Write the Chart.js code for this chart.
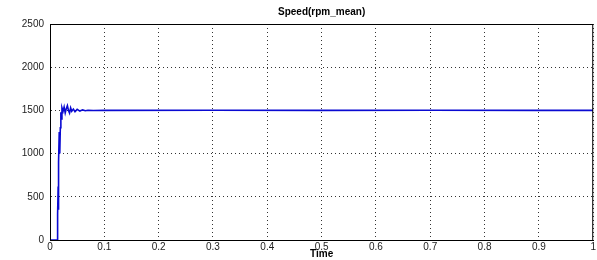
<!DOCTYPE html>
<html>
<head>
<meta charset="utf-8">
<script src="https://cdn.jsdelivr.net/npm/chart.js@4.4.0/dist/chart.umd.min.js"></script>
<style>
  html, body { margin: 0; padding: 0; background: #fff; }
  #wrap { width: 597px; height: 260px; }
</style>
</head>
<body>
<div id="wrap"><canvas id="speedChart"></canvas></div>
<script>
// values (time in s, speed in rpm)
const time = [0, 0.013, 0.014, 0.015, 0.0155, 0.016, 0.017, 0.018, 0.019, 0.020, 0.021, 0.022,
  0.024, 0.026, 0.028, 0.030, 0.032, 0.034, 0.036, 0.038, 0.040, 0.043, 0.046, 0.050,
  0.055, 0.060, 0.065, 0.070, 0.080, 0.100, 0.300, 0.500, 0.700, 0.900, 1.0];
const speed = [0, 0, 300, 620, 350, 900, 1250, 1000, 1300, 1480, 1400, 1530,
  1490, 1540, 1470, 1520, 1555, 1500, 1470, 1530, 1490, 1515, 1485, 1512,
  1492, 1506, 1496, 1502, 1499, 1500, 1501, 1500, 1501, 1500, 1500];
const xTicks = [0, 0.1, 0.2, 0.3, 0.4, 0.5, 0.6, 0.7, 0.8, 0.9, 1];
const yTicks = [0, 500, 1000, 1500, 2000, 2500];

const points = time.map((t, i) => ({ x: t, y: speed[i] }));

// MATLAB style box around the axes
const boxPlugin = {
  id: 'box',
  afterDraw(chart) {
    const a = chart.chartArea, ctx = chart.ctx;
    ctx.save();
    ctx.strokeStyle = '#000';
    ctx.lineWidth = 1;
    ctx.strokeRect(a.left + 0.5, a.top + 0.5, a.right - a.left - 1, a.bottom - a.top);
    ctx.restore();
  }
};

const fontFam = '"Liberation Sans", Arial, sans-serif';

new Chart(document.getElementById('speedChart'), {
  type: 'line',
  data: {
    datasets: [{
      data: points,
      borderColor: '#0a0ad2',
      borderWidth: 1.6,
      pointRadius: 0,
      tension: 0,
      fill: false
    }]
  },
  options: {
    responsive: true,
    maintainAspectRatio: false,
    animation: false,
    layout: { padding: { left: 0, right: 2, top: 0, bottom: 0 } },
    plugins: {
      legend: { display: false },
      tooltip: { enabled: false },
      title: {
        display: true,
        text: 'Speed(rpm_mean)',
        fullSize: false,
        color: '#000',
        font: { family: fontFam, size: 10, weight: 'bold' },
        padding: { top: 6, bottom: 6 }
      }
    },
    scales: {
      x: {
        type: 'linear',
        min: 0,
        max: 1,
        afterBuildTicks: s => { s.ticks = xTicks.map(v => ({ value: v })); },
        afterFit: s => { s.height = 20; },
        grid: { color: '#333', drawTicks: false, lineWidth: 1 },
        border: { display: true, color: '#000', dash: [1, 3] },
        ticks: {
          padding: 1,
          color: '#222',
          font: { family: fontFam, size: 10 },
          maxRotation: 0,
          callback: v => String(Math.round(v * 10) / 10)
        },
        title: {
          display: true,
          text: 'Time',
          color: '#000',
          font: { family: fontFam, size: 10, weight: 'bold' },
          padding: 0
        }
      },
      y: {
        min: 0,
        max: 2500,
        afterBuildTicks: s => { s.ticks = yTicks.map(v => ({ value: v })); },
        afterFit: s => { s.width = 50; },
        grid: { color: '#333', drawTicks: false, lineWidth: 1 },
        border: { display: true, color: '#000', dash: [1, 3] },
        ticks: {
          padding: 6,
          color: '#222',
          font: { family: fontFam, size: 10 },
          callback: v => String(v)
        }
      }
    }
  },
  plugins: [boxPlugin]
});
</script>
</body>
</html>
